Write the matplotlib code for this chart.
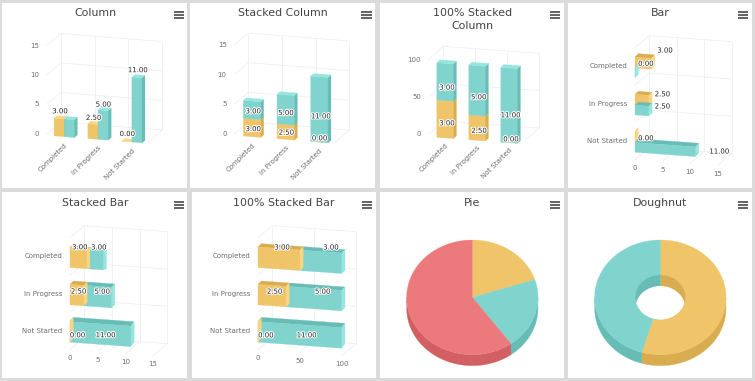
import numpy as np
import matplotlib
matplotlib.use('Agg')
import matplotlib.pyplot as plt
from matplotlib.patches import Ellipse, Rectangle
import matplotlib.patheffects as pe

# data
categories = ['Completed', 'In Progress', 'Not Started']
orange_vals = [3, 2.5, 0]
teal_vals = [3, 5, 11]
bar_teal_vals = [0, 2.5, 11]
pie_vals = [3, 3, 9]
doughnut_vals = [6, 5]

# colours: face, lighter, darker
ORANGE = ('#F0C468', '#F9D67F', '#D9AC4F')
TEAL = ('#81D3CD', '#96E6E0', '#68BCB6')
RED = ('#EC7A7C', '#EC7A7C', '#D26062')
GRID = '#EFEFEF'
TICK = '#6E6E6E'

# every panel axes is 190x190 px, its data units are 1/3 px (570 wide)
fig = plt.figure(figsize=(7.55, 3.81), dpi=100, facecolor='#DBDBDB')


def make_panel(x0, y0, left, right, top, bottom, title, cx=283):
    ax = fig.add_axes([x0 / 755, (381 - y0 - 190) / 381, 190 / 755, 190 / 381])
    ax.set_xlim(0, 570)
    ax.set_ylim(570, 0)
    ax.axis('off')
    ax.add_patch(Rectangle((left, top), right - left, bottom - top, fc='white', ec='none'))
    if isinstance(title, list):
        ax.text(cx, 38, title[0], ha='center', va='center', fontsize=7.9, color='#444444')
        ax.text(cx, 79, title[1], ha='center', va='center', fontsize=7.9, color='#444444')
    else:
        ax.text(cx, 38, title, ha='center', va='center', fontsize=7.9, color='#444444')
    menu_r = right - 10
    for y in [36, 45, 54]:
        ax.add_patch(Rectangle((menu_r - 31, y - 2.5), 31, 5, fc='#666666', ec='none'))
    return ax


def face(ax, pts, color, z=2):
    pts = np.array(pts)
    ax.fill(pts[:, 0], pts[:, 1], fc=color, ec=color, lw=0.2, zorder=z)


def label(ax, x, y, v):
    ax.text(x, y, f'{v:.2f}', ha='center', va='center', fontsize=5, color='#222222', zorder=6,
            path_effects=[pe.withStroke(linewidth=1.5, foreground='white')])


def line(ax, a, b):
    ax.plot([a[0], b[0]], [a[1], b[1]], color=GRID, lw=0.6, zorder=1, solid_capstyle='butt')


def column_panel(ax, O, ex, sy, ez, ticks, a, b, off, w, z0, stacked, lab_off, dz=0.21):
    O, ex, ez = np.array(O, float), np.array(ex, float), np.array(ez, float)

    def P(x, v, z):
        return O + ex * x + np.array([0, -v * sy]) + ez * z

    # walls
    for t in ticks:
        line(ax, P(0, t, 1), P(3, t, 1))
        line(ax, P(0, t, 0), P(0, t, 1))
        ax.text(O[0] - 23, O[1] - t * sy, str(t), ha='right', va='center', fontsize=5, color=TICK)
    for c in range(4):
        line(ax, P(c, ticks[0], 1), P(c, ticks[-1], 1))
    line(ax, P(3, 0, 0), P(3, 0, 1))

    def box(x0, x1, v0, v1, col):
        face(ax, [P(x0, v0, z0), P(x1, v0, z0), P(x1, v1, z0), P(x0, v1, z0)], col[0], 3)
        face(ax, [P(x1, v0, z0), P(x1, v0, z0 + dz), P(x1, v1, z0 + dz), P(x1, v1, z0)], col[2], 3)
        face(ax, [P(x0, v1, z0), P(x1, v1, z0), P(x1, v1, z0 + dz), P(x0, v1, z0 + dz)], col[1], 3)

    k = 0
    for i, cat in enumerate(categories):
        base = P(i + 0.5, 0, 0) + np.array([2, 21])
        ax.text(base[0], base[1], cat, rotation=45, rotation_mode='anchor', ha='right', va='top',
                fontsize=5, color=TICK)
        v_a, v_b = a[i], b[i]
        if stacked:
            x0, x1 = i + off, i + off + w
            box(x0, x1, 0, v_a, ORANGE)
            box(x0, x1, v_a, v_a + v_b, TEAL)
            segs = [((x0 + x1) / 2, v_a / 2, v_a), ((x0 + x1) / 2, v_a + v_b / 2, v_b)]
            vals = [orange_vals[i], teal_vals[i]]
        else:
            xa, xb, xc = i + off, i + off + w, i + off + 2 * w
            box(xa, xb, 0, v_a, ORANGE)
            box(xb, xc, 0, v_b, TEAL)
            segs = [((xa + xb) / 2, v_a, v_a), ((xb + xc) / 2, v_b, v_b)]
            vals = [v_a, v_b]
        for (sx, sv, _), val in zip(segs, vals):
            d = lab_off[k]
            k += 1
            if d is None:
                continue
            p = P(sx, sv, z0)
            label(ax, p[0] + d[0], p[1] + d[1], val)


def bar_panel(ax, O, ex, ey, ez, ticks, a, b, shown_a, shown_b, stacked, lifts, lab_off, end_dx=10):
    O, ex, ez = np.array(O, float), np.array(ex, float), np.array(ez, float)

    def P(v, r, z=0):
        return O + ex * v + np.array([0, ey * r]) + ez * z

    for r in range(4):
        line(ax, P(0, r, 1), P(ticks[-1], r, 1))
        line(ax, P(0, r, 0), P(0, r, 1))
    for t in ticks:
        line(ax, P(t, 0, 1), P(t, 3, 1))
        line(ax, P(t, 3, 0), P(t, 3, 1))
        p = P(t, 3, 0)
        ax.text(p[0], p[1] + 26, str(t), ha='center', va='center', fontsize=5, color=TICK)

    def box(v0, v1, r0, r1, lift, col):
        d = np.array([end_dx, -lift])
        tl, tr = P(v0, r0), P(v1, r0)
        bl, br = P(v0, r1), P(v1, r1)
        face(ax, [tl, tr, tr + d, tl + d], col[2], 3)
        face(ax, [tr, br, br + d, tr + d], col[1], 3)
        face(ax, [tl, tr, br, bl], col[0], 3)

    k = 0
    for i, cat in enumerate(categories):
        ax.text(O[0] - 23, O[1] + ey * (i + 0.5), cat, ha='right', va='center', fontsize=5, color=TICK)
        v_a, v_b = a[i], b[i]
        lift = lifts[i]
        if stacked:
            box(v_a, v_a + v_b, i + 0.25, i + 0.80, lift, TEAL)
            box(0, v_a, i + 0.25, i + 0.80, lift, ORANGE)
            anchors = [P(v_a / 2, i + 0.25), P(v_a + v_b / 2, i + 0.25)]
        else:
            box(0, v_a, i + 0.25, i + 0.54, lift, ORANGE)
            box(0, v_b, i + 0.54, i + 0.80, lift, TEAL)
            anchors = [P(v_a, i + 0.25), P(v_b, i + 0.54)]
        for p, val in zip(anchors, [shown_a[i], shown_b[i]]):
            d = lab_off[k]
            k += 1
            label(ax, p[0] + d[0], p[1] + d[1], val)


def arc(cx, cy, rx, ry, t0, t1):
    t = np.radians(np.linspace(t0, t1, max(int(abs(t1 - t0)) + 2, 3)))
    return np.column_stack([cx + rx * np.sin(t), cy - ry * np.cos(t)])


def round_panel(ax, vals, colors, inner=None, cx=283, cy=322, rx=197, ry=172, h=33):
    angles = np.concatenate([[0], np.cumsum(vals) / np.sum(vals) * 360])
    # side wall, only the near half shows
    for i, col in enumerate(colors):
        t0, t1 = max(angles[i], 90), min(angles[i + 1], 270)
        if t1 > t0:
            top = arc(cx, cy, rx, ry, t0, t1)
            low = arc(cx, cy + h, rx, ry, t1, t0)
            face(ax, np.vstack([top, low]), col[2], 2)
    for i, col in enumerate(colors):
        outer = arc(cx, cy, rx, ry, angles[i], angles[i + 1])
        if inner:
            hole = arc(cx, cy, inner[0], inner[1], angles[i + 1], angles[i])
        else:
            hole = np.array([[cx, cy]])
        face(ax, np.vstack([outer, hole]), col[0], 3)
    if inner:
        # inside wall seen through the hole
        face(ax, np.vstack([arc(cx, cy, inner[0], inner[1], 0, 180), [[cx, cy]]]), colors[0][2], 4)
        face(ax, np.vstack([arc(cx, cy, inner[0], inner[1], 180, 360), [[cx, cy]]]), colors[1][2], 4)
        clip = Ellipse((cx, cy), inner[0] * 2, inner[1] * 2, transform=ax.transData, fc='none', ec='none')
        ax.add_patch(clip)
        white = Ellipse((cx, cy + h), inner[0] * 2, inner[1] * 2, fc='white', ec='none', zorder=5)
        ax.add_patch(white)
        white.set_clip_path(clip)


# top row
ax = make_panel(0, 0, 6, 562, 8, 565, 'Column', cx=285)
column_panel(ax, (140, 402), (101.5, 8), 17.7, (42, -36), [0, 5, 10, 15], orange_vals, teal_vals,
             0.26, 0.3, -0.1, False,
             [(3, -22), None, (2, -19), (1, -17), (2, -23), (3, -22)])

ax = make_panel(190, 0, 0, 555, 8, 565, 'Stacked Column', cx=280)
column_panel(ax, (133, 402), (101, 8), 17.8, (42, -36), [0, 5, 10, 15], orange_vals, teal_vals,
             0.31, 0.515, -0.1, True,
             [(4, 4), (4, 4), (2, 2), (1, 10), (1, -11), (5, 21)])

pct_a = [100 * p / (p + q) for p, q in zip(orange_vals, teal_vals)]
pct_b = [100 * q / (p + q) for p, q in zip(orange_vals, teal_vals)]

# labels show the raw values, bars the share
ax = make_panel(378, 0, 5, 557, 8, 565, ['100% Stacked', 'Column'], cx=283)
column_panel(ax, (152, 403), (96, 7), 2.24, (43, -40), [0, 50, 100], pct_a, pct_b,
             0.33, 0.52, -0.17, True,
             [(6, 12), (6, 17), (6, 9), (5, 20), (6, -10), (5, 30)])

ax = make_panel(566, 0, 5, 557, 8, 565, 'Bar', cx=283)
bar_panel(ax, (207, 143), (16.5, 1.2), 112, (43, -36), [0, 5, 10, 15], orange_vals, bar_teal_vals,
          orange_vals, bar_teal_vals, False, [10, 9, 11],
          [(41, -23), (33, -12), (41, -3), (41, 1), (33, 20), (72, 14)])

# bottom row
ax = make_panel(0, 190, 5, 562, 5, 565, 'Stacked Bar', cx=285)
bar_panel(ax, (210, 143), (16.6, 1.2), 112, (43, -36), [0, 5, 10, 15], orange_vals, teal_vals,
          orange_vals, teal_vals, True, [3, 10, 13],
          [(5, -1), (12, -4), (5, 20), (14, 16), (23, 41), (16, 34)])

ax = make_panel(190, 190, 5, 557, 5, 565, '100% Stacked Bar', cx=280)
bar_panel(ax, (204, 143), (2.51, 0.18), 112, (43, -36), [0, 50, 100], pct_a, pct_b,
          orange_vals, teal_vals, True, [10, 10, 13],
          [(10, -3), (31, -12), (8, 19), (27, 10), (24, 41), (21, 32)])

ax = make_panel(378, 190, 5, 557, 5, 565, 'Pie', cx=283)
round_panel(ax, pie_vals, [ORANGE, TEAL, RED])

ax = make_panel(566, 190, 5, 557, 5, 565, 'Doughnut', cx=283)
round_panel(ax, doughnut_vals, [ORANGE, TEAL], inner=(75, 67))

fig.savefig('out.png', dpi=100, facecolor=fig.get_facecolor())
